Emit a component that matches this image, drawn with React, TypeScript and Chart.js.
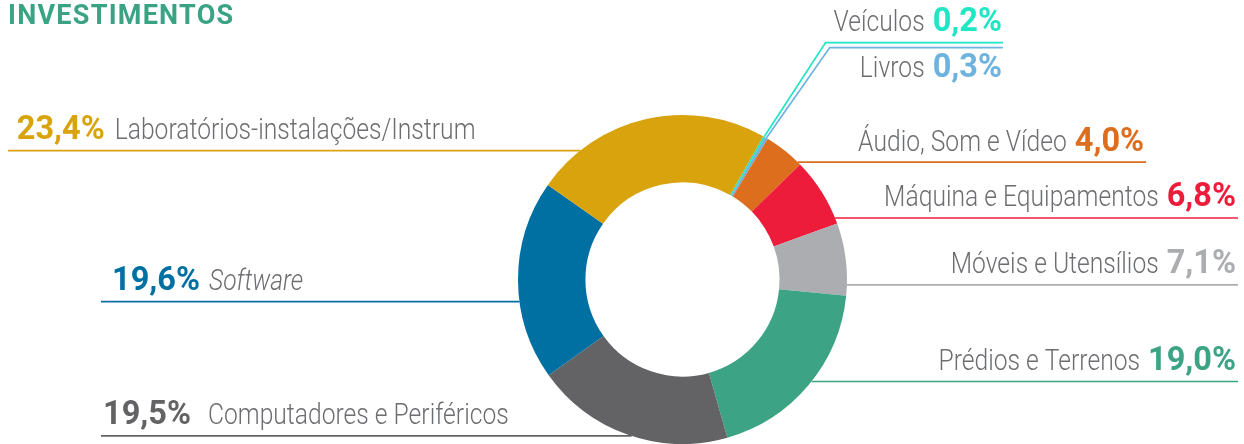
import React, { useEffect, useRef } from "react";
import { Chart, registerables } from "chart.js";
Chart.register(...registerables);

const title = "INVESTIMENTOS";
const categories = [
  "Veículos",
  "Livros",
  "Áudio, Som e Vídeo",
  "Máquina e Equipamentos",
  "Móveis e Utensílios",
  "Prédios e Terrenos",
  "Computadores e Periféricos",
  "Software",
  "Laboratórios-instalações/Instrum",
];
const values = [0.2, 0.3, 4.0, 6.8, 7.1, 19.0, 19.5, 19.6, 23.4];
const colors = [
  "#1fe6c4",
  "#6db3de",
  "#dc6e1d",
  "#ee1c3b",
  "#acadb0",
  "#3ca384",
  "#636365",
  "#0070a3",
  "#d8a30d",
];

// label layout relative to doughnut centre (cx, cy) and outer radius R
type Lay = {
  side: "left" | "right";
  k: number; // line y = cy + k*R
  end?: number; // right side: line end x = cx + end*R
  start?: number; // left side: line start x = cx + start*R
  elbow?: number; // elbow x = cx + elbow*R
  below?: boolean;
  inset: number;
  gap: number;
  italic?: boolean;
};
const LAYOUT: Lay[] = [
  { side: "right", k: -1.44, elbow: 0.87, end: 1.948, inset: 1, gap: 8 },
  { side: "right", k: -1.41, elbow: 0.895, end: 1.948, below: true, inset: 1, gap: 8 },
  { side: "right", k: -0.713, end: 2.818, inset: 2, gap: 8 },
  { side: "right", k: -0.374, end: 3.377, inset: 2, gap: 8 },
  { side: "right", k: 0.033, end: 3.377, inset: 2, gap: 8 },
  { side: "right", k: 0.62, end: 3.377, inset: 2, gap: 8 },
  { side: "left", k: 0.951, start: -3.535, inset: 2, gap: 17 },
  { side: "left", k: 0.135, start: -3.535, inset: 11, gap: 9 },
  { side: "left", k: -0.784, start: -4.1, inset: 8.7, gap: 10 },
];
const ITALIC_INDEX = 7;

const fmt = (v: number) => v.toFixed(1).replace(".", ",") + "%";

const LABEL_COLOR = "#6d6e71";
const LABEL_SIZE = 29;
const LABEL_SCALE = 0.85;
const VALUE_FONT = "bold 32.5px Roboto";

function drawText(
  ctx: CanvasRenderingContext2D,
  text: string,
  x: number,
  y: number,
  align: CanvasTextAlign,
  font: string,
  color: string,
  scaleX: number
) {
  ctx.save();
  ctx.font = font;
  ctx.fillStyle = color;
  ctx.textAlign = align;
  ctx.textBaseline = "alphabetic";
  ctx.translate(x, y);
  ctx.scale(scaleX, 1);
  ctx.fillText(text, 0, 0);
  const w = ctx.measureText(text).width * scaleX;
  ctx.restore();
  return w;
}

const labelsPlugin = {
  id: "leaderLabels",
  afterDatasetsDraw(chart: any) {
    const ctx: CanvasRenderingContext2D = chart.ctx;
    const meta = chart.getDatasetMeta(0);
    const a0: any = meta.data[0];
    const cx = a0.x;
    const cy = a0.y;
    const R = a0.outerRadius;

    // title
    ctx.save();
    ctx.font = "bold 27px Roboto";
    (ctx as any).letterSpacing = "1.25px";
    ctx.fillStyle = "#3aa384";
    ctx.textBaseline = "alphabetic";
    ctx.textAlign = "left";
    ctx.fillText(title, 8, 24);
    ctx.restore();

    LAYOUT.forEach((L, i) => {
      const color = colors[i];
      const arc: any = meta.data[i];
      const ly = cy + L.k * R;
      ctx.save();
      ctx.strokeStyle = color;
      ctx.lineWidth = 1.7;
      ctx.beginPath();
      if (L.elbow !== undefined) {
        const mid = (arc.startAngle + arc.endAngle) / 2;
        const px = cx + Math.cos(mid) * R;
        const py = cy + Math.sin(mid) * R;
        const ex = cx + L.elbow * R;
        ctx.moveTo(px, py);
        ctx.lineTo(ex, ly);
        ctx.lineTo(cx + (L.end as number) * R, ly);
      } else {
        const dy = ly - cy;
        const dx = Math.sqrt(Math.max(R * R - dy * dy, 0));
        if (L.side === "right") {
          ctx.moveTo(cx + dx, ly);
          ctx.lineTo(cx + (L.end as number) * R, ly);
        } else {
          ctx.moveTo(cx + (L.start as number) * R, ly);
          ctx.lineTo(cx - dx, ly);
        }
      }
      ctx.stroke();
      ctx.restore();

      const baseY = L.below ? ly + 29 : ly - 11.5;
      const labelFont = `${i === ITALIC_INDEX ? "italic " : ""}300 ${LABEL_SIZE}px Roboto`;
      const valText = fmt(values[i]);
      if (L.side === "right") {
        const rx = cx + (L.end as number) * R - L.inset;
        const wv = drawText(ctx, valText, rx, baseY, "right", VALUE_FONT, color, 1);
        drawText(ctx, categories[i], rx - wv - L.gap, baseY, "right", labelFont, LABEL_COLOR, LABEL_SCALE);
      } else {
        const lx = cx + (L.start as number) * R + L.inset;
        const wv = drawText(ctx, valText, lx, baseY, "left", VALUE_FONT, color, 1);
        drawText(ctx, categories[i], lx + wv + L.gap, baseY, "left", labelFont, LABEL_COLOR, LABEL_SCALE);
      }
    });
  },
};

export default function App() {
  const ref = useRef<HTMLCanvasElement | null>(null);
  useEffect(() => {
    if (!ref.current) return;
    const chart = new Chart(ref.current, {
      type: "doughnut",
      data: {
        labels: categories,
        datasets: [
          {
            data: values,
            backgroundColor: colors,
            borderWidth: 0,
            hoverOffset: 0,
            offset: 0,
          },
        ],
      },
      options: {
        animation: false,
        responsive: false,
        devicePixelRatio: 1,
        rotation: 29.4,
        cutout: "59%",
        layout: { padding: { left: 518, right: 397, top: 115, bottom: 0 } },
        plugins: {
          legend: { display: false },
          tooltip: { enabled: false },
          title: { display: false },
        },
        events: [],
      } as any,
      plugins: [labelsPlugin],
    });
    return () => chart.destroy();
  }, []);
  return (
    <div style={{ position: "fixed", left: 0, top: 0, width: 1244, height: 444, background: "#fff" }}>
      <canvas ref={ref} width={1244} height={444} style={{ display: "block" }} />
    </div>
  );
}
